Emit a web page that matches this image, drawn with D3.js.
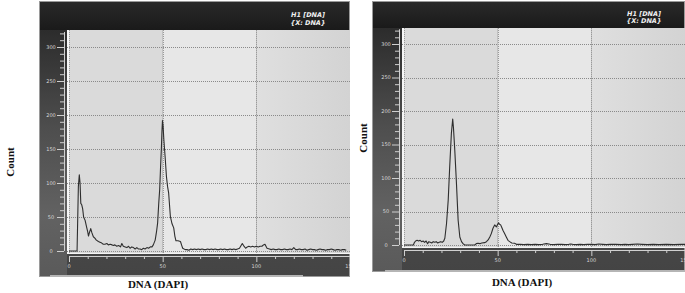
<!DOCTYPE html>
<html><head><meta charset="utf-8">
<script src="https://cdn.jsdelivr.net/npm/d3@7"></script>
<style>html,body{margin:0;padding:0;background:#fff;}svg{display:block;}</style>
</head><body>
<svg id="c" width="685" height="293"></svg>
<script>
// ---- data ----
const xTicks = [0, 50, 100, 150];
const yTicks = [0, 50, 100, 150, 200, 250, 300];
const headerLines = ["H1 [DNA]", "{X: DNA}"];
const xTitle = "DNA (DAPI)";
const yTitle = "Count";

const leftDNA = [0,4.3,4.6,5.0,5.5,5.9,6.3,6.8,7.3,7.8,8.6,9.4,10.0,10.4,11.0,11.6,12.2,13.0,13.8,14.6,15.7,16.5,17.3,18.3,19.2,20.2,21.0,22.0,23.0,23.6,24.5,25.5,26.5,27.5,28.2,29.0,30.0,30.9,31.8,32.6,33.5,34.4,35.3,36.2,37.0,38.0,38.8,39.7,40.6,41.6,42.5,43.4,44.3,45.0,46.0,46.7,47.3,47.9,48.4,48.9,49.3,49.6,49.9,50.2,50.6,51.0,51.4,52.0,52.6,53.2,54.1,55.0,55.9,56.5,57.1,58.2,59.5,60.2,60.7,62,63,64,65,66,67,68,69,70,71,72,73,74,75,76,77,78,79,80,81,82,83,84,85,86,87,88,89,90,91,92.5,93.2,94.3,95.2,96,97,98,99,100,101,102,103,103.8,104.6,105.7,107,108,109,110,111,112,113,114,115,116,117,118,119,120,121,122,123,124,125,126,127,128,129,130,131,132,133,134,135,136,137,138,139,140,141,142,143,144,145,146,147,148,149,150];
const leftCount = [0,0,40,95,112,100,70,68,62,50,45,35,28,22,28,33,27,21,19,16,14,13,12,10,10,11,9,10,9,8,9,7,8,6,11,7,6,5,7,4,6,5,3,5,3,3,2,4,3,5,4,6,6,9,16,28,41,70,90,125,150,175,192,185,165,150,135,110,95,85,51,40,34,22,15,15,14,8,4,2,2,1,3,2,3,2,3,2,3,2,2,3,2,3,2,3,2,2,3,2,3,2,2,3,2,3,2,3,4,11,8,4,6,7,6,7,6,7,6,7,7,9,10,4,3,2,3,2,2,3,2,2,3,2,2,3,2,5,2,2,3,2,2,3,1,2,3,2,2,1,2,3,2,2,1,2,2,3,2,1,2,2,1,2,2,1];

const rightDNA = [0,5,5.6,6.2,7,7.8,8.6,9.4,10.2,11,11.8,12.6,13.2,14,14.8,15.6,16.4,17.2,18,18.8,19.6,20.4,21.2,21.8,22.7,23.6,24.4,25.3,26.0,26.4,27.1,28.0,28.9,29.8,30.7,31.5,32.4,34,36,37.8,38.6,39.5,40.5,41.5,43,44,44.9,45.8,46.6,47.5,48.4,49.3,50,50.5,51,51.6,52.2,52.8,53.7,54.6,55.5,56.4,57.5,59,60,62,64,66,68,70,72,74,76,78,80,82,84,86,88,89,90,92,94,96,98,100,102,104,106,108,110,113,116,118,120,122,124.5,127,130,133,136,140,144,148,150];
const rightCount = [0,0,4,6,7,6,7,5,6,4,6,2,5,4,3,5,4,5,3,4,5,4,6,10,32,67,117,167,188,175,142,92,37,12,5,2,0,0,0,0,2,2.5,2,3,3.5,5,7.5,12,17,25,30,27,31,33,31,30,26,22,17,12,7,5,3,2.5,1,1,0.5,1,0.5,1,0.5,1,2,1,0.5,1,1,0.5,1,1.5,1,0.5,1,0.5,1,1,0.5,1.5,1,0.5,1,1,0.5,1,0.5,1,1.5,1,0.5,1,0.5,1,0.5,1,1];

// ---- layout ----
const panels = [
  { dna: leftDNA, count: leftCount, fx: 39, fy: 1, fw: 311, fh: 276, hh: 29,
    px0: 67, px1: 350, py0: 30, py1: 254, xr: [69, 350], yr: [251, 47], axY: 256,
    tx: 308, ty: [15, 23], cx: 10, cy: 162, dx: 158, dy: 288, sb: [50, 303] },
  { dna: rightDNA, count: rightCount, fx: 372, fy: 1, fw: 313, fh: 271, hh: 27,
    px0: 402, px1: 685, py0: 28, py1: 248, xr: [404, 685], yr: [245, 44], axY: 250,
    tx: 644, ty: [14, 21], cx: 363, cy: 138, dx: 522, dy: 286, sb: [385, 685] }
];

const svg = d3.select("#c");
const defs = svg.append("defs");
function lg(id, stops, vertical) {
  const g = defs.append("linearGradient").attr("id", id)
    .attr("x1", 0).attr("y1", 0).attr("x2", vertical ? 0 : 1).attr("y2", vertical ? 1 : 0);
  stops.forEach(s => g.append("stop").attr("offset", s[0]).attr("stop-color", s[1]));
}
lg("hdr", [[0, "#2a2a2a"], [1, "#1a1a1a"]], true);
lg("side", [[0, "#2c2c2c"], [0.4, "#4e4e4e"], [0.75, "#626262"], [1, "#5a5a5a"]], true);
lg("bot", [[0, "#5c5c5c"], [1, "#444"]], true);
lg("rband", [[0, "#dfdfdf"], [1, "#d3d3d3"]], false);

panels.forEach((p, i) => {
  const g = svg.append("g");
  const clipId = "clip" + i;
  defs.append("clipPath").attr("id", clipId).append("rect")
    .attr("x", p.fx).attr("y", p.fy).attr("width", p.fw).attr("height", p.fh);
  const fg = g.append("g").attr("clip-path", `url(#${clipId})`);

  const x = d3.scaleLinear().domain([0, 150]).range(p.xr);
  const y = d3.scaleLinear().domain([0, 300]).range(p.yr);

  // frame
  fg.append("rect").attr("x", p.fx).attr("y", p.fy).attr("width", p.fw).attr("height", p.fh).attr("fill", "url(#bot)");
  fg.append("rect").attr("x", p.fx).attr("y", p.fy + p.hh).attr("width", p.px0 - p.fx).attr("height", p.fh - p.hh).attr("fill", "url(#side)");
  fg.append("rect").attr("x", p.fx).attr("y", p.fy).attr("width", p.fw).attr("height", p.hh).attr("fill", "url(#hdr)");
  fg.append("rect").attr("x", p.fx + 0.5).attr("y", p.fy + 0.5).attr("width", p.fw - 1).attr("height", p.fh - 1)
    .attr("fill", "none").attr("stroke", "#9a9a9a").attr("stroke-width", 1);
  // scroll bar strip
  fg.append("rect").attr("x", p.sb[0]).attr("y", p.fy + p.fh - 2).attr("width", p.sb[1] - p.sb[0]).attr("height", 2).attr("fill", "#b5b5b5");

  // plot area bands
  const ph = p.py1 - p.py0;
  fg.append("rect").attr("x", p.px0).attr("y", p.py0).attr("width", x(50) - p.px0).attr("height", ph).attr("fill", "#dadada");
  fg.append("rect").attr("x", x(50)).attr("y", p.py0).attr("width", x(100) - x(50)).attr("height", ph).attr("fill", "#e7e7e7");
  fg.append("rect").attr("x", x(100)).attr("y", p.py0).attr("width", p.px1 - x(100)).attr("height", ph).attr("fill", "url(#rband)");
  fg.append("line").attr("x1", p.px0 + 1).attr("x2", p.px0 + 1).attr("y1", p.py0).attr("y2", p.py1).attr("stroke", "#fff").attr("stroke-width", 1.5);
  fg.append("line").attr("x1", p.px0).attr("x2", p.px1).attr("y1", p.py1 - 0.5).attr("y2", p.py1 - 0.5).attr("stroke", "#f4f4f4").attr("stroke-width", 1);

  // grid
  fg.append("g").selectAll("line").data(yTicks).join("line")
    .attr("x1", p.px0).attr("x2", p.px1).attr("y1", d => Math.round(y(d)) + 0.5).attr("y2", d => Math.round(y(d)) + 0.5)
    .attr("stroke", "#8a8a8a").attr("stroke-width", 1).attr("stroke-dasharray", "1,1");
  fg.append("g").selectAll("line").data(xTicks.slice(0, 3)).join("line")
    .attr("x1", d => Math.round(x(d)) + 0.5).attr("x2", d => Math.round(x(d)) + 0.5).attr("y1", p.py0).attr("y2", p.py1)
    .attr("stroke", "#9a9a9a").attr("stroke-width", 1).attr("stroke-dasharray", "1,1");

  // histogram line
  const pts = p.dna.map((d, k) => [d, p.count[k]]);
  fg.append("path").datum(pts)
    .attr("d", d3.line().x(d => x(d[0])).y(d => y(d[1])))
    .attr("fill", "none").attr("stroke", "#2e2e2e").attr("stroke-width", 1.1).attr("stroke-linejoin", "round");

  // y axis
  const yMinor = d3.range(0, 330, 10);
  const ya = fg.append("g").attr("transform", `translate(${p.px0 - 3},0)`)
    .call(d3.axisLeft(y).tickValues(yMinor).tickSize(3).tickFormat(""));
  ya.select(".domain").attr("stroke", "#cfcfcf").attr("d", `M0.5,${y(0)}V${y(322)}`);
  ya.selectAll(".tick line").attr("stroke", "#cfcfcf").attr("x2", d => d % 50 === 0 ? -7 : -4);
  fg.append("g").selectAll("text").data(yTicks).join("text")
    .attr("x", p.px0 - 16).attr("y", d => y(d) + 1.8).attr("text-anchor", "middle")
    .attr("font-family", "DejaVu Sans, sans-serif").attr("font-size", 5).attr("fill", "#d8d8d8").text(d => d);

  // x axis
  const xMinor = d3.range(0, 151, 10);
  const xa = fg.append("g").attr("transform", `translate(0,${p.axY})`)
    .call(d3.axisBottom(x).tickValues(xMinor).tickSize(3).tickFormat(""));
  xa.select(".domain").attr("stroke", "#d0d0d0").attr("d", `M${x(0)},0.5H${p.px1}`);
  xa.selectAll(".tick line").attr("stroke", "#d0d0d0").attr("y2", d => d % 50 === 0 ? 6 : 3);
  fg.append("g").selectAll("text").data(xTicks).join("text")
    .attr("x", d => x(d)).attr("y", p.axY + 12).attr("text-anchor", "middle")
    .attr("font-family", "DejaVu Sans, sans-serif").attr("font-size", 5).attr("fill", "#d8d8d8").text(d => d);

  // header
  fg.append("g").selectAll("text").data(headerLines).join("text")
    .attr("x", p.tx).attr("y", (d, k) => p.ty[k] + 2).attr("text-anchor", "middle")
    .attr("font-family", "DejaVu Sans, sans-serif").attr("font-size", 6.5).attr("font-weight", "bold").attr("font-style", "italic")
    .attr("fill", "#f0f0f0").text(d => d);

  // outer titles
  g.append("text").attr("x", p.dx).attr("y", p.dy).attr("text-anchor", "middle")
    .attr("font-family", "Liberation Serif, Times New Roman, serif").attr("font-size", 11).attr("font-weight", "bold")
    .attr("fill", "#111").text(xTitle);
  g.append("text").attr("transform", `translate(${p.cx + 4},${p.cy}) rotate(-90)`).attr("text-anchor", "middle")
    .attr("font-family", "Liberation Serif, Times New Roman, serif").attr("font-size", 11).attr("font-weight", "bold")
    .attr("fill", "#111").text(yTitle);
});
</script>
</body></html>
